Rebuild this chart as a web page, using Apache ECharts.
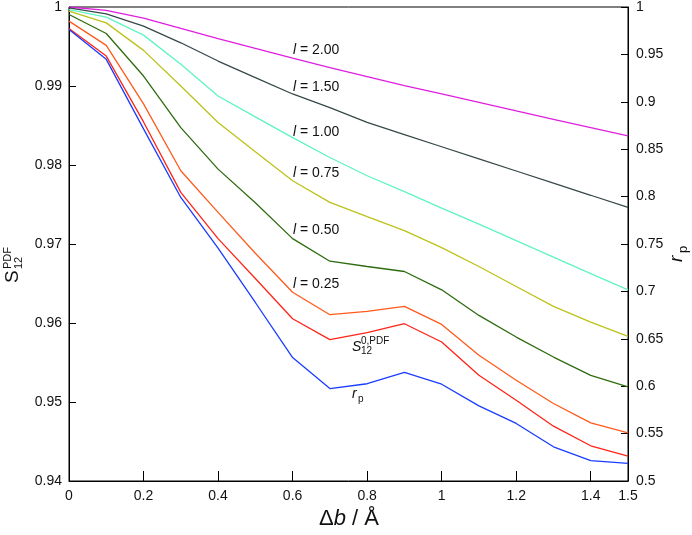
<!DOCTYPE html>
<html>
<head>
<meta charset="utf-8">
<script src="https://cdn.jsdelivr.net/npm/echarts@6/dist/echarts.min.js"></script>
<style>
html,body{margin:0;padding:0;background:#fff;}
#chart{width:692px;height:535px;}
</style>
</head>
<body>
<div id="chart"></div>
<script>
// Δb / Å
var deltaB = [0, 0.1, 0.2, 0.3, 0.4, 0.5, 0.6, 0.7, 0.8, 0.9, 1.0, 1.1, 1.2, 1.3, 1.4, 1.5];

// S12^PDF for different l (left axis)
var sL200 = [1.0000, 0.99956, 0.99859, 0.99729, 0.99600, 0.99476, 0.99354, 0.99234, 0.99120, 0.99006, 0.98899, 0.98792, 0.98684, 0.98578, 0.98473, 0.98369];
var sL150 = [0.99989, 0.99913, 0.99758, 0.99547, 0.99316, 0.99107, 0.98899, 0.98726, 0.98539, 0.98385, 0.98231, 0.98078, 0.97924, 0.97770, 0.97617, 0.97463];
var sL100 = [0.99968, 0.99871, 0.99644, 0.99274, 0.98874, 0.98609, 0.98347, 0.98095, 0.97864, 0.97662, 0.97453, 0.97251, 0.97043, 0.96835, 0.96626, 0.96420];
var sL075 = [0.99947, 0.99799, 0.99451, 0.99000, 0.98537, 0.98167, 0.97801, 0.97527, 0.97346, 0.97169, 0.96955, 0.96715, 0.96462, 0.96210, 0.96011, 0.95831];
var sL050 = [0.99905, 0.99665, 0.99126, 0.98473, 0.97948, 0.97523, 0.97068, 0.96782, 0.96715, 0.96652, 0.96420, 0.96096, 0.95822, 0.95569, 0.95338, 0.95191];
var sL025 = [0.99821, 0.99514, 0.98773, 0.97927, 0.97400, 0.96883, 0.96390, 0.96105, 0.96146, 0.96210, 0.95982, 0.95591, 0.95275, 0.94981, 0.94736, 0.94610];
// S12^0,PDF (left axis)
var s0 = [0.99729, 0.99379, 0.98545, 0.97653, 0.97068, 0.96563, 0.96054, 0.95789, 0.95878, 0.95991, 0.95759, 0.95338, 0.95023, 0.94694, 0.94446, 0.94316];
// r_p (right axis)
var rp = [0.9763, 0.9448, 0.8714, 0.7991, 0.7457, 0.6883, 0.6302, 0.5975, 0.6026, 0.6147, 0.6021, 0.5792, 0.5607, 0.5361, 0.5214, 0.5186];

var lineLabels = ['2.00', '1.50', '1.00', '0.75', '0.50', '0.25'];

function pairs(ys) { return deltaB.map(function (x, i) { return [x, ys[i]]; }); }

var FONT = '"Liberation Sans", Arial, Helvetica, sans-serif';

var seriesDefs = [
  { name: 'l = 2.00', data: sL200, color: '#e01ee0', axis: 0 },
  { name: 'l = 1.50', data: sL150, color: '#38484a', axis: 0 },
  { name: 'l = 1.00', data: sL100, color: '#5ff5c0', axis: 0 },
  { name: 'l = 0.75', data: sL075, color: '#bcc21a', axis: 0 },
  { name: 'l = 0.50', data: sL050, color: '#2e6c10', axis: 0 },
  { name: 'l = 0.25', data: sL025, color: '#ff5a1c', axis: 0 },
  { name: 'S0', data: s0, color: '#ff2418', axis: 0 },
  { name: 'rp', data: rp, color: '#1a3cff', axis: 1 }
];

var labelY = [50, 87, 132, 173, 230, 284];
var graphics = lineLabels.map(function (t, i) {
  return {
    type: 'text', x: 293, y: labelY[i], silent: true,
    style: {
      text: '{i|l} = ' + t, fill: '#111', font: '14px ' + FONT, verticalAlign: 'middle',
      rich: { i: { fontStyle: 'italic', fontSize: 14, fontFamily: FONT } }
    }
  };
});

// S12^0,PDF label
graphics.push({ type: 'text', x: 352, y: 347, silent: true, style: { text: 'S', fill: '#111', font: 'italic 14px ' + FONT, verticalAlign: 'middle' } });
graphics.push({ type: 'text', x: 361, y: 341, silent: true, style: { text: '0,PDF', fill: '#111', font: '10px ' + FONT, verticalAlign: 'middle' } });
graphics.push({ type: 'text', x: 361, y: 351, silent: true, style: { text: '12', fill: '#111', font: '10px ' + FONT, verticalAlign: 'middle' } });
// r_p label
graphics.push({ type: 'text', x: 352, y: 394, silent: true, style: { text: 'r', fill: '#111', font: 'italic 14px ' + FONT, verticalAlign: 'middle' } });
graphics.push({ type: 'text', x: 358, y: 399, silent: true, style: { text: 'p', fill: '#111', font: '10px ' + FONT, verticalAlign: 'middle' } });

// x axis title
graphics.push({
  type: 'text', x: 349, y: 519, silent: true,
  style: {
    text: '{n|Δ}{i|b}{n| / Å}', fill: '#111', align: 'center', verticalAlign: 'middle',
    rich: {
      n: { fontSize: 22, fontFamily: FONT },
      i: { fontSize: 22, fontFamily: FONT, fontStyle: 'italic' }
    }
  }
});

// left y title S^PDF_12 (rotated)
graphics.push({
  type: 'group', x: 13, y: 283, rotation: Math.PI / 2, silent: true,
  children: [
    { type: 'text', x: 0, y: 0, style: { text: 'S', fill: '#111', font: '19px ' + FONT, verticalAlign: 'middle' } },
    { type: 'text', x: 14, y: -5, style: { text: 'PDF', fill: '#111', font: '11px ' + FONT, verticalAlign: 'middle' } },
    { type: 'text', x: 14, y: 6, style: { text: '12', fill: '#111', font: '11px ' + FONT, verticalAlign: 'middle' } }
  ]
});

// right y title r_p (rotated)
graphics.push({
  type: 'group', x: 677, y: 262, rotation: Math.PI / 2, silent: true,
  children: [
    { type: 'text', x: 0, y: 0, style: { text: 'r', fill: '#111', font: 'italic 19px ' + FONT, verticalAlign: 'middle' } },
    { type: 'text', x: 9, y: 6, style: { text: 'p', fill: '#111', font: '13px ' + FONT, verticalAlign: 'middle' } }
  ]
});

var chart = echarts.init(document.getElementById('chart'), null, { renderer: 'canvas' });
chart.setOption({
  animation: false,
  backgroundColor: '#fff',
  textStyle: { fontFamily: FONT },
  grid: { left: 69, right: 64, top: 6, bottom: 54, show: true, borderColor: '#000', borderWidth: 1, backgroundColor: 'transparent' },
  xAxis: {
    type: 'value', min: 0, max: 1.5, interval: 0.2,
    axisLine: { show: true, lineStyle: { color: '#000', width: 1 } },
    axisTick: { show: true, inside: true, length: 10, lineStyle: { color: '#000', width: 1 } },
    axisLabel: { color: '#111', fontSize: 14, margin: 8, fontFamily: FONT, showMaxLabel: true },
    splitLine: { show: false }
  },
  yAxis: [
    {
      type: 'value', min: 0.94, max: 1, interval: 0.01, position: 'left',
      axisLine: { show: true, lineStyle: { color: '#000', width: 1 } },
      axisTick: { show: true, inside: true, length: 7, lineStyle: { color: '#000', width: 1 } },
      axisLabel: { color: '#111', fontSize: 14, margin: 7, fontFamily: FONT },
      splitLine: { show: false }
    },
    {
      type: 'value', min: 0.5, max: 1, interval: 0.05, position: 'right',
      axisLine: { show: true, lineStyle: { color: '#000', width: 1 } },
      axisTick: { show: true, inside: true, length: 7, lineStyle: { color: '#000', width: 1 } },
      axisLabel: { color: '#111', fontSize: 14, margin: 8, fontFamily: FONT },
      splitLine: { show: false }
    }
  ],
  series: seriesDefs.map(function (s) {
    return {
      name: s.name, type: 'line', yAxisIndex: s.axis, data: pairs(s.data),
      showSymbol: false, symbol: 'none', smooth: false,
      lineStyle: { color: s.color, width: 1.3 }, itemStyle: { color: s.color },
      z: 2
    };
  }),
  graphic: graphics
});
</script>
</body>
</html>
